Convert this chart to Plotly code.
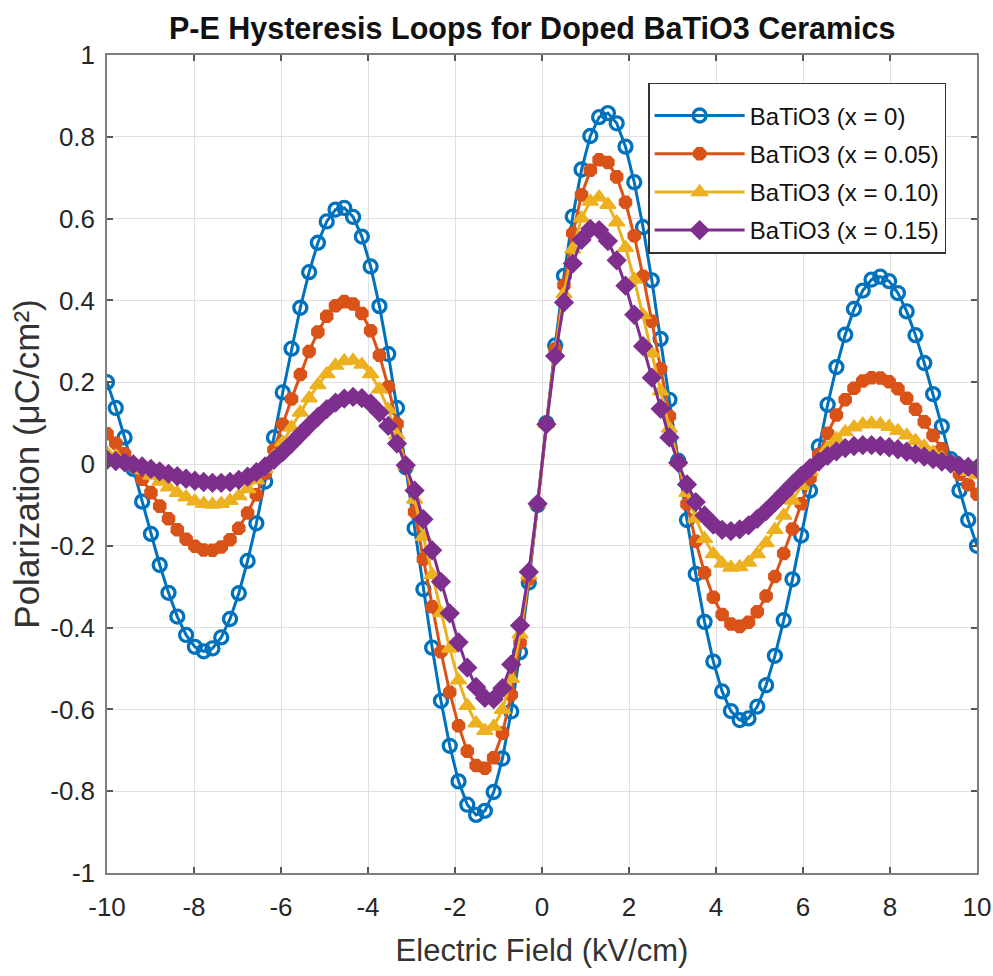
import plotly.graph_objects as go

# Electric field samples (kV/cm)
E_FIELD = [-10.0, -9.798, -9.596, -9.394, -9.192, -8.990, -8.788, -8.586, -8.384, -8.182,
           -7.980, -7.778, -7.576, -7.374, -7.172, -6.970, -6.768, -6.566, -6.364, -6.162,
           -5.960, -5.758, -5.556, -5.354, -5.152, -4.949, -4.747, -4.545, -4.343, -4.141,
           -3.939, -3.737, -3.535, -3.333, -3.131, -2.929, -2.727, -2.525, -2.323, -2.121,
           -1.919, -1.717, -1.515, -1.313, -1.111, -0.909, -0.707, -0.505, -0.303, -0.101,
           0.101, 0.303, 0.505, 0.707, 0.909, 1.111, 1.313, 1.515, 1.717, 1.919,
           2.121, 2.323, 2.525, 2.727, 2.929, 3.131, 3.333, 3.535, 3.737, 3.939,
           4.141, 4.343, 4.545, 4.747, 4.949, 5.152, 5.354, 5.556, 5.758, 5.960,
           6.162, 6.364, 6.566, 6.768, 6.970, 7.172, 7.374, 7.576, 7.778, 7.980,
           8.182, 8.384, 8.586, 8.788, 8.990, 9.192, 9.394, 9.596, 9.798, 10.0]

# Polarization (uC/cm^2)
P_X000 = [0.200, 0.137, 0.065, -0.012, -0.092, -0.171, -0.247, -0.315, -0.373, -0.418,
          -0.447, -0.458, -0.451, -0.424, -0.379, -0.316, -0.237, -0.145, -0.043, 0.065,
          0.175, 0.282, 0.382, 0.469, 0.541, 0.593, 0.622, 0.626, 0.604, 0.556,
          0.483, 0.386, 0.269, 0.137, -0.008, -0.157, -0.306, -0.449, -0.579, -0.689,
          -0.776, -0.833, -0.858, -0.848, -0.802, -0.720, -0.605, -0.460, -0.290, -0.100,
          0.100, 0.290, 0.460, 0.605, 0.720, 0.802, 0.848, 0.858, 0.833, 0.776,
          0.689, 0.579, 0.449, 0.306, 0.157, 0.008, -0.137, -0.269, -0.386, -0.483,
          -0.556, -0.604, -0.626, -0.622, -0.593, -0.541, -0.469, -0.382, -0.282, -0.175,
          -0.065, 0.043, 0.145, 0.237, 0.316, 0.379, 0.424, 0.451, 0.458, 0.447,
          0.418, 0.373, 0.315, 0.247, 0.171, 0.092, 0.012, -0.065, -0.137, -0.200]

P_X005 = [0.074, 0.051, 0.025, -0.005, -0.037, -0.070, -0.103, -0.134, -0.161, -0.184,
          -0.201, -0.210, -0.211, -0.203, -0.185, -0.157, -0.120, -0.075, -0.023, 0.035,
          0.097, 0.159, 0.219, 0.275, 0.323, 0.361, 0.387, 0.397, 0.391, 0.368,
          0.326, 0.266, 0.189, 0.098, -0.005, -0.117, -0.233, -0.349, -0.459, -0.558,
          -0.640, -0.702, -0.737, -0.744, -0.718, -0.658, -0.564, -0.437, -0.281, -0.099,
          0.099, 0.281, 0.437, 0.564, 0.658, 0.718, 0.744, 0.737, 0.702, 0.640,
          0.558, 0.459, 0.349, 0.233, 0.117, 0.005, -0.098, -0.189, -0.266, -0.326,
          -0.368, -0.391, -0.397, -0.387, -0.361, -0.323, -0.275, -0.219, -0.159, -0.097,
          -0.035, 0.023, 0.075, 0.120, 0.157, 0.185, 0.203, 0.211, 0.210, 0.201,
          0.184, 0.161, 0.134, 0.103, 0.070, 0.037, 0.005, -0.025, -0.051, -0.074]

P_X010 = [0.027, 0.019, 0.010, -0.002, -0.015, -0.028, -0.043, -0.057, -0.070, -0.081,
          -0.091, -0.097, -0.099, -0.097, -0.090, -0.078, -0.061, -0.039, -0.012, 0.019,
          0.053, 0.089, 0.126, 0.161, 0.193, 0.220, 0.241, 0.252, 0.253, 0.243,
          0.220, 0.183, 0.133, 0.070, -0.004, -0.087, -0.178, -0.271, -0.364, -0.451,
          -0.529, -0.591, -0.634, -0.652, -0.642, -0.601, -0.525, -0.416, -0.272, -0.098,
          0.098, 0.272, 0.416, 0.525, 0.601, 0.642, 0.652, 0.634, 0.591, 0.529,
          0.451, 0.364, 0.271, 0.178, 0.087, 0.004, -0.070, -0.133, -0.183, -0.220,
          -0.243, -0.253, -0.252, -0.241, -0.220, -0.193, -0.161, -0.126, -0.089, -0.053,
          -0.019, 0.012, 0.039, 0.061, 0.078, 0.090, 0.097, 0.099, 0.097, 0.091,
          0.081, 0.070, 0.057, 0.043, 0.028, 0.015, 0.002, -0.010, -0.019, -0.027]

P_X015 = [0.010, 0.007, 0.004, -0.001, -0.006, -0.012, -0.018, -0.024, -0.030, -0.036,
          -0.041, -0.044, -0.046, -0.046, -0.044, -0.039, -0.031, -0.020, -0.006, 0.010,
          0.029, 0.050, 0.072, 0.094, 0.115, 0.134, 0.150, 0.160, 0.164, 0.161,
          0.148, 0.126, 0.093, 0.050, -0.003, -0.065, -0.135, -0.211, -0.288, -0.365,
          -0.436, -0.498, -0.545, -0.572, -0.575, -0.548, -0.490, -0.395, -0.264, -0.097,
          0.097, 0.264, 0.395, 0.490, 0.548, 0.575, 0.572, 0.545, 0.498, 0.436,
          0.365, 0.288, 0.211, 0.135, 0.065, 0.003, -0.050, -0.093, -0.126, -0.148,
          -0.161, -0.164, -0.160, -0.150, -0.134, -0.115, -0.094, -0.072, -0.050, -0.029,
          -0.010, 0.006, 0.020, 0.031, 0.039, 0.044, 0.046, 0.046, 0.044, 0.041,
          0.036, 0.030, 0.024, 0.018, 0.012, 0.006, 0.001, -0.004, -0.007, -0.010]

SERIES_NAMES = ["BaTiO3 (x = 0)", "BaTiO3 (x = 0.05)", "BaTiO3 (x = 0.10)", "BaTiO3 (x = 0.15)"]
SERIES_VALUES = [P_X000, P_X005, P_X010, P_X015]
COLORS = ["#0072BD", "#D95319", "#EDB120", "#7E2F8E"]
SYMBOLS = ["circle-open", "octagon", "triangle-up", "diamond"]
MARKER_SIZES = [13, 13, 14, 14]
MARKER_LINES = [3.3, 1.5, 1.5, 1.5]

X_TICKS = [-10, -8, -6, -4, -2, 0, 2, 4, 6, 8, 10]
X_TICKTEXT = ["-10", "-8", "-6", "-4", "-2", "0", "2", "4", "6", "8", "10"]
Y_TICKS = [-1, -0.8, -0.6, -0.4, -0.2, 0, 0.2, 0.4, 0.6, 0.8, 1]
Y_TICKTEXT = ["-1", "-0.8", "-0.6", "-0.4", "-0.2", "0", "0.2", "0.4", "0.6", "0.8", "1"]

FONT = "Liberation Sans, Arial, Helvetica, sans-serif"

fig = go.Figure()
for k, (name, vals, color, sym, ms, mlw) in enumerate(
        zip(SERIES_NAMES, SERIES_VALUES, COLORS, SYMBOLS, MARKER_SIZES, MARKER_LINES)):
    fig.add_trace(go.Scatter(
        x=E_FIELD, y=vals, mode="lines+markers", name=name, legendgroup=f"g{k}",
        line=dict(color=color, width=3),
        marker=dict(symbol=sym, size=ms, color=color, line=dict(color=color, width=mlw)),
    ))

axis_common = dict(
    showgrid=True, gridcolor="#e0e0e0", gridwidth=1,
    showline=True, linecolor="#808080", linewidth=1.5, mirror="ticks",
    ticks="inside", ticklen=6, tickcolor="#555555", tickwidth=1.5,
    zeroline=False, automargin=False,
    tickfont=dict(family=FONT, size=26, color="#262626"),
)

fig.update_layout(
    width=993, height=976,
    paper_bgcolor="white", plot_bgcolor="white",
    margin=dict(l=107, r=16, t=55, b=103),
    font=dict(family=FONT, color="#262626"),
    title=dict(text="<b>P-E Hysteresis Loops for Doped BaTiO3 Ceramics</b>",
               font=dict(family=FONT, size=30.5, color="#111111"),
               x=0.536, xanchor="center", y=0.971, yanchor="middle", yref="container"),
    xaxis=dict(range=[-10, 10], tickvals=X_TICKS, ticktext=X_TICKTEXT,
               ticklabelstandoff=10,
               title=dict(text="Electric Field (kV/cm)", font=dict(family=FONT, size=31, color="#333333"),
                          standoff=18),
               **axis_common),
    yaxis=dict(range=[-1, 1], tickvals=Y_TICKS, ticktext=Y_TICKTEXT,
               ticklabelstandoff=5,
               title=dict(text="Polarization (μC/cm²)", font=dict(family=FONT, size=35, color="#333333"),
                          standoff=0),
               **axis_common),
    legend=dict(x=0.622, y=0.966, xanchor="left", yanchor="top",
                bgcolor="white", bordercolor="#333333", borderwidth=1.5,
                font=dict(family=FONT, size=24, color="#111111"),
                title=dict(text=" ", font=dict(size=7)),
                itemwidth=90, tracegroupgap=4),
    showlegend=True,
)

# remove the default page margin so the figure sits exactly in the window
fig.write_html("out.html",
               config={"displayModeBar": False},
               post_script="document.body.style.margin='0';document.body.style.overflow='hidden';")
